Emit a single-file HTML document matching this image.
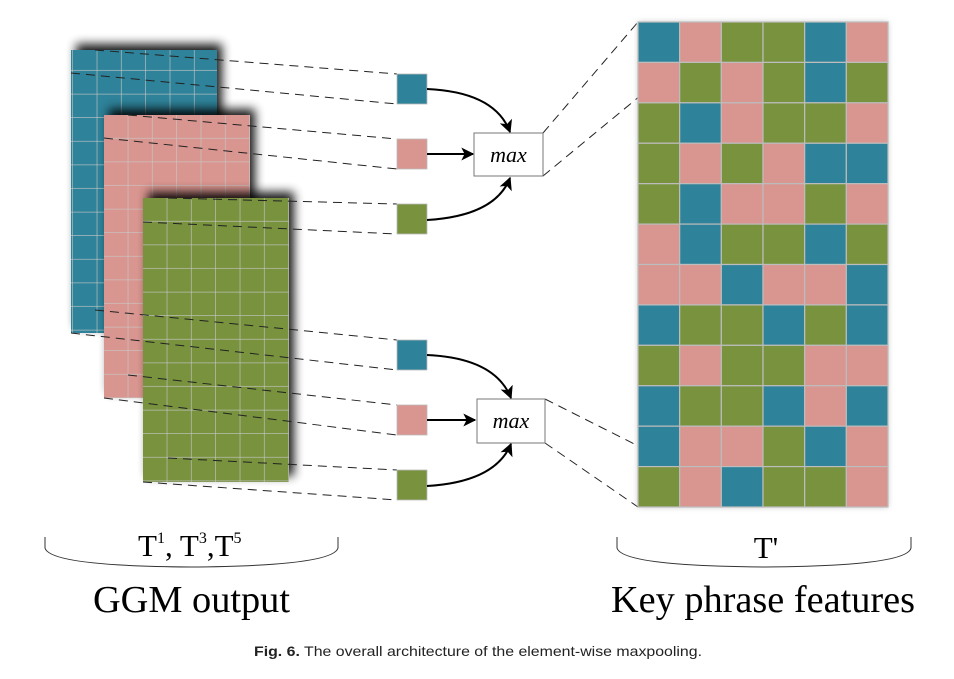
<!DOCTYPE html>
<html><head><meta charset="utf-8"><style>
html,body{margin:0;padding:0;background:#fff}
svg{display:block}
</style></head><body>
<svg width="954" height="679" viewBox="0 0 954 679" xmlns="http://www.w3.org/2000/svg">
<defs>
<filter id="sh" x="-20%" y="-20%" width="140%" height="140%"><feGaussianBlur stdDeviation="5"/></filter>
<filter id="sh2" x="-20%" y="-20%" width="140%" height="140%"><feGaussianBlur stdDeviation="3"/></filter>
<pattern id="gridL" x="0" y="0" width="24.33" height="23.6" patternUnits="userSpaceOnUse">
<path d="M24.33 0V23.6M0 23.6H24.33" stroke="#c8c8c8" stroke-width="1.2" fill="none"/>
</pattern>
<marker id="ah" viewBox="0 0 10 10" refX="9" refY="5" markerWidth="14" markerHeight="13" orient="auto" markerUnits="userSpaceOnUse"><path d="M0 0L10 5L0 10L2.5 5z" fill="#000"/></marker>
</defs>
<rect x="76" y="44" width="146" height="283" fill="#000" filter="url(#sh)" opacity="0.9"/>
<rect x="71" y="50" width="146" height="283" fill="#2e8299"/>
<rect x="71" y="50" width="146" height="283" fill="url(#gridL)"/>
<rect x="109" y="109" width="146" height="283" fill="#000" filter="url(#sh)" opacity="0.9"/>
<rect x="104" y="115" width="146" height="283" fill="#d9958f"/>
<g transform="translate(104,115)"><rect width="146" height="283" fill="url(#gridL)"/></g>
<rect x="148" y="192" width="146" height="284" fill="#000" filter="url(#sh)" opacity="0.9"/>
<rect x="143" y="198" width="146" height="284" fill="#78923e"/>
<g transform="translate(143,198)"><rect width="146" height="284" fill="url(#gridL)"/></g>
<g stroke="#222" stroke-width="1" stroke-dasharray="9,6" fill="none">
<line x1="95" y1="50" x2="397" y2="74"/><line x1="71" y1="73" x2="397" y2="104"/>
<line x1="128" y1="115" x2="397" y2="139"/><line x1="104" y1="138" x2="397" y2="169"/>
<line x1="168" y1="198" x2="397" y2="204"/><line x1="143" y1="222" x2="397" y2="234"/>
<line x1="95" y1="310" x2="397" y2="340"/><line x1="71" y1="333" x2="397" y2="370"/>
<line x1="128" y1="375" x2="397" y2="405"/><line x1="104" y1="398" x2="397" y2="435"/>
<line x1="168" y1="458" x2="397" y2="470"/><line x1="143" y1="482" x2="397" y2="500"/>
<line x1="543" y1="133" x2="638" y2="22"/><line x1="543" y1="176" x2="680" y2="63"/>
<line x1="545" y1="399" x2="680" y2="467"/><line x1="545" y1="443" x2="638" y2="507"/>
</g>
<g stroke="#bbb" stroke-width="0.8">
<rect x="397" y="74" width="30" height="30" fill="#2e8299"/>
<rect x="397" y="139" width="30" height="30" fill="#d9958f"/>
<rect x="397" y="204" width="30" height="30" fill="#78923e"/>
<rect x="397" y="340" width="30" height="30" fill="#2e8299"/>
<rect x="397" y="405" width="30" height="30" fill="#d9958f"/>
<rect x="397" y="470" width="30" height="30" fill="#78923e"/>
</g>
<g stroke="#000" stroke-width="2" fill="none" marker-end="url(#ah)">
<path d="M427 89 Q495 92 510 132"/>
<line x1="427" y1="154" x2="473" y2="154"/>
<path d="M427 220 Q495 216 510 178"/>
<path d="M427 355 Q495 358 511 398"/>
<line x1="427" y1="420" x2="475" y2="420"/>
<path d="M427 486 Q495 482 511 444"/>
</g>
<rect x="474" y="133" width="69" height="43" fill="#fff" stroke="#777" stroke-width="1"/>
<text x="508.5" y="162" font-family="Liberation Serif,serif" font-style="italic" font-size="22" text-anchor="middle">max</text>
<rect x="477" y="399" width="68" height="44" fill="#fff" stroke="#777" stroke-width="1"/>
<text x="511" y="428" font-family="Liberation Serif,serif" font-style="italic" font-size="22" text-anchor="middle">max</text>
<rect x="638" y="22" width="250" height="485" fill="#999" filter="url(#sh2)" opacity="0.6"/>
<g id="rg"></g>
<g stroke="#333" stroke-width="1" fill="none">
<path d="M45 537 V548 Q50 566 190 567 Q333 566 338 548 V537"/>
<path d="M617 537 V548 Q622 566 765 567 Q907 566 911 548 V537"/>
</g>
<text x="138" y="556" font-family="Liberation Serif,serif" font-size="31">T<tspan font-size="16" dy="-13">1</tspan><tspan dy="13">, T</tspan><tspan font-size="16" dy="-13">3</tspan><tspan dy="13">,T</tspan><tspan font-size="16" dy="-13">5</tspan></text>
<text x="766" y="558" font-family="Liberation Serif,serif" font-size="31" text-anchor="middle">T'</text>
<text x="93" y="612" font-family="Liberation Serif,serif" font-size="38" textLength="197" lengthAdjust="spacingAndGlyphs">GGM output</text>
<text x="611" y="612" font-family="Liberation Serif,serif" font-size="38" textLength="304" lengthAdjust="spacingAndGlyphs">Key phrase features</text>
<text x="254" y="656" font-family="Liberation Sans,sans-serif" font-size="14" fill="#222" textLength="448" lengthAdjust="spacingAndGlyphs"><tspan font-weight="bold">Fig. 6.</tspan> The overall architecture of the element-wise maxpooling.</text>
</svg>
<script>
var rows=["BPGGBP","PGPGBG","GBPGGP","GPGPBB","GBPPGP","PBGGBG","PPBPPB","BGGBGB","GPGGPP","BGGBPB","BPPGBP","GPBGGP"];
var col={B:"#2e8299",P:"#d9958f",G:"#78923e"};
var g=document.getElementById("rg"),w=250/6,h=485/12;
for(var r=0;r<12;r++)for(var c=0;c<6;c++){var e=document.createElementNS("http://www.w3.org/2000/svg","rect");
e.setAttribute("x",638+c*w);e.setAttribute("y",22+r*h);e.setAttribute("width",w);e.setAttribute("height",h);e.setAttribute("fill",col[rows[r][c]]);e.setAttribute("stroke","#bdbdbd");e.setAttribute("stroke-width","1.2");g.appendChild(e);}
</script>
</body></html>
